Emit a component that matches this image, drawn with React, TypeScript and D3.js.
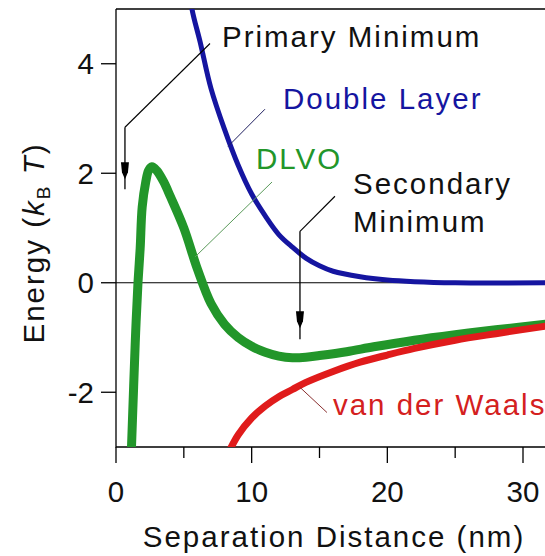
import React from 'react';
import * as d3 from 'd3';

// ---- data ----
const xMajorTicks = [0, 10, 20, 30];
const xMinorTicks = [5, 15, 25];
const yTicks = [-2, 0, 2, 4];

const doubleLayerX = [5.3, 5.6, 6.2, 7, 8, 9, 10, 11, 12, 13, 14, 15, 16, 18, 20, 22, 25, 32];
const doubleLayerY = [5.6, 5.0, 4.4, 3.55, 2.8, 2.15, 1.62, 1.22, 0.88, 0.65, 0.45, 0.31, 0.21, 0.11, 0.05, 0.02, 0.0, 0.0];

const dlvoX = [1.1, 1.3, 1.45, 1.62, 1.78, 1.93, 2.2, 2.4, 2.65, 3.0, 3.5, 4.0, 5.0, 6.0, 7.0, 8.0, 9.0, 10.0, 11.0, 12.0, 13.0, 14.0, 15.0, 17.0, 19.0, 22.0, 25.0, 28.0, 32.0];
const dlvoY = [-3.3, -1.9, -0.9, 0.0, 0.62, 1.38, 1.85, 2.05, 2.12, 2.05, 1.85, 1.58, 1.0, 0.25, -0.38, -0.76, -1.0, -1.16, -1.27, -1.34, -1.37, -1.36, -1.33, -1.26, -1.17, -1.05, -0.95, -0.86, -0.75];

const vdwX = [8.3, 9, 10, 11, 12, 13, 14, 16, 18, 20, 22, 25, 28, 32];
const vdwY = [-3.1, -2.78, -2.47, -2.25, -2.08, -1.95, -1.82, -1.62, -1.45, -1.32, -1.2, -1.05, -0.93, -0.78];

// annotation anchors (data units)
const primaryLeader = [[6.93, 4.37], [0.66, 2.84]];
const primaryArrow = { x: 0.66, top: 2.84, head: 2.2, end: 1.71 };
const secondaryLeader = [[16.14, 1.58], [13.56, 0.94]];
const secondaryArrow = { x: 13.56, top: 0.94, head: -0.52, end: -1.03 };
const doubleLayerLeader = [[8.26, 2.49], [10.98, 3.17]];
const dlvoLeader = [[11.5, 1.84], [5.82, 0.47]];
const vdwLeader = [[13.56, -1.91], [15.55, -2.37]];

const labels = [
  { text: 'Primary Minimum', x: 7.81, y: 4.3, color: '#111' },
  { text: 'Double Layer', x: 12.31, y: 3.17, color: '#1515a0' },
  { text: 'DLVO', x: 10.32, y: 2.07, color: '#22962a' },
  { text: 'Secondary', x: 17.47, y: 1.62, color: '#111' },
  { text: 'Minimum', x: 17.47, y: 0.92, color: '#111' },
  { text: 'van der Waals', x: 15.99, y: -2.42, color: '#d42020' },
];

const W = 545;
const H = 556;
const FONT = "'Liberation Sans', Arial, sans-serif";
const FS = 29.5;
const LS = 2;

export default function App() {
  const x = d3.scaleLinear().domain([0, 30]).range([116, 523]);
  const y = d3.scaleLinear().domain([-3, 5]).range([447, 9]);
  const left = x(0);
  const right = W;
  const top = y(5);
  const bottom = y(-3);

  const line = d3
    .line<[number, number]>()
    .x((d) => x(d[0]))
    .y((d) => y(d[1]))
    .curve(d3.curveCatmullRom.alpha(0.5));

  const zip = (a: number[], b: number[]) => a.map((v, i) => [v, b[i]] as [number, number]);

  const seg = (p: number[][]) => `M${x(p[0][0])},${y(p[0][1])}L${x(p[1][0])},${y(p[1][1])}`;

  const arrow = (a: { x: number; top: number; head: number; end: number }) => {
    const ax = x(a.x);
    const hy = y(a.head);
    return (
      <g>
        <path d={`M${ax},${y(a.top)}L${ax},${y(a.end)}`} stroke="#000" strokeWidth={1.3} />
        <path
          d={`M${ax - 4},${hy}L${ax + 4},${hy}L${ax + 3},${hy + 10}L${ax},${hy + 17}L${ax - 3},${hy + 10}Z`}
          fill="#000"
        />
      </g>
    );
  };

  return (
    <svg
      width={W}
      height={H}
      style={{ position: 'absolute', left: 0, top: 0, background: '#fff' }}
      fontFamily={FONT}
    >
      <defs>
        <clipPath id="plot">
          <rect x={left} y={top} width={right - left} height={bottom - top} />
        </clipPath>
      </defs>
      <rect x={0} y={0} width={W} height={H} fill="#fff" />

      {/* frame */}
      <path d={`M${left},${top}L${right},${top}`} stroke="#000" strokeWidth={1.3} />
      <path d={`M${left},${top}L${left},${bottom}L${right},${bottom}`} stroke="#000" strokeWidth={1.3} fill="none" />
      {/* zero line */}
      <path d={`M${left},${y(0)}L${right},${y(0)}`} stroke="#000" strokeWidth={1.1} />

      {/* y ticks */}
      {yTicks.map((t) => (
        <g key={'y' + t}>
          <line x1={left - 15} x2={left} y1={y(t)} y2={y(t)} stroke="#000" strokeWidth={1.3} />
          <text x={left - 22} y={y(t) + 10.5} textAnchor="end" fontSize={FS} fill="#111">
            {t}
          </text>
        </g>
      ))}
      {/* x ticks */}
      {xMajorTicks.map((t) => (
        <g key={'x' + t}>
          <line x1={x(t)} x2={x(t)} y1={bottom} y2={bottom + 16} stroke="#000" strokeWidth={1.3} />
          <text x={x(t)} y={bottom + 55} textAnchor="middle" fontSize={FS} fill="#111">
            {t}
          </text>
        </g>
      ))}
      {xMinorTicks.map((t) => (
        <line key={'m' + t} x1={x(t)} x2={x(t)} y1={bottom} y2={bottom + 11} stroke="#000" strokeWidth={1.3} />
      ))}

      {/* axis titles */}
      <text x={334} y={547} textAnchor="middle" fontSize={FS} letterSpacing={LS} fill="#111">
        Separation Distance (nm)
      </text>
      <text
        transform={`translate(44,243) rotate(-90)`}
        textAnchor="middle"
        fontSize={FS}
        letterSpacing={LS}
        fill="#111"
      >
        Energy (<tspan fontStyle="italic">k</tspan>
        <tspan fontSize={19} dy={6}>B</tspan>
        <tspan dy={-6}> </tspan>
        <tspan fontStyle="italic">T</tspan>)
      </text>

      {/* curves */}
      <g clipPath="url(#plot)" fill="none" strokeLinecap="round" strokeLinejoin="round">
        <path d={line(zip(doubleLayerX, doubleLayerY)) || ''} stroke="#1515a0" strokeWidth={5} />
        <path d={line(zip(dlvoX, dlvoY)) || ''} stroke="#22962a" strokeWidth={9} />
        <path d={line(zip(vdwX, vdwY)) || ''} stroke="#e01b1b" strokeWidth={7} />
      </g>

      {/* leaders */}
      <path d={seg(primaryLeader)} stroke="#000" strokeWidth={1.1} />
      <path d={seg(secondaryLeader)} stroke="#000" strokeWidth={1.1} />
      <path d={seg(doubleLayerLeader)} stroke="#202060" strokeWidth={1} />
      <path d={seg(dlvoLeader)} stroke="#5a9a5a" strokeWidth={1} />
      <path d={seg(vdwLeader)} stroke="#8a3030" strokeWidth={1} />
      {arrow(primaryArrow)}
      {arrow(secondaryArrow)}

      {/* labels */}
      {labels.map((l) => (
        <text key={l.text} x={x(l.x)} y={y(l.y)} fontSize={FS} letterSpacing={LS} fill={l.color}>
          {l.text}
        </text>
      ))}
    </svg>
  );
}
